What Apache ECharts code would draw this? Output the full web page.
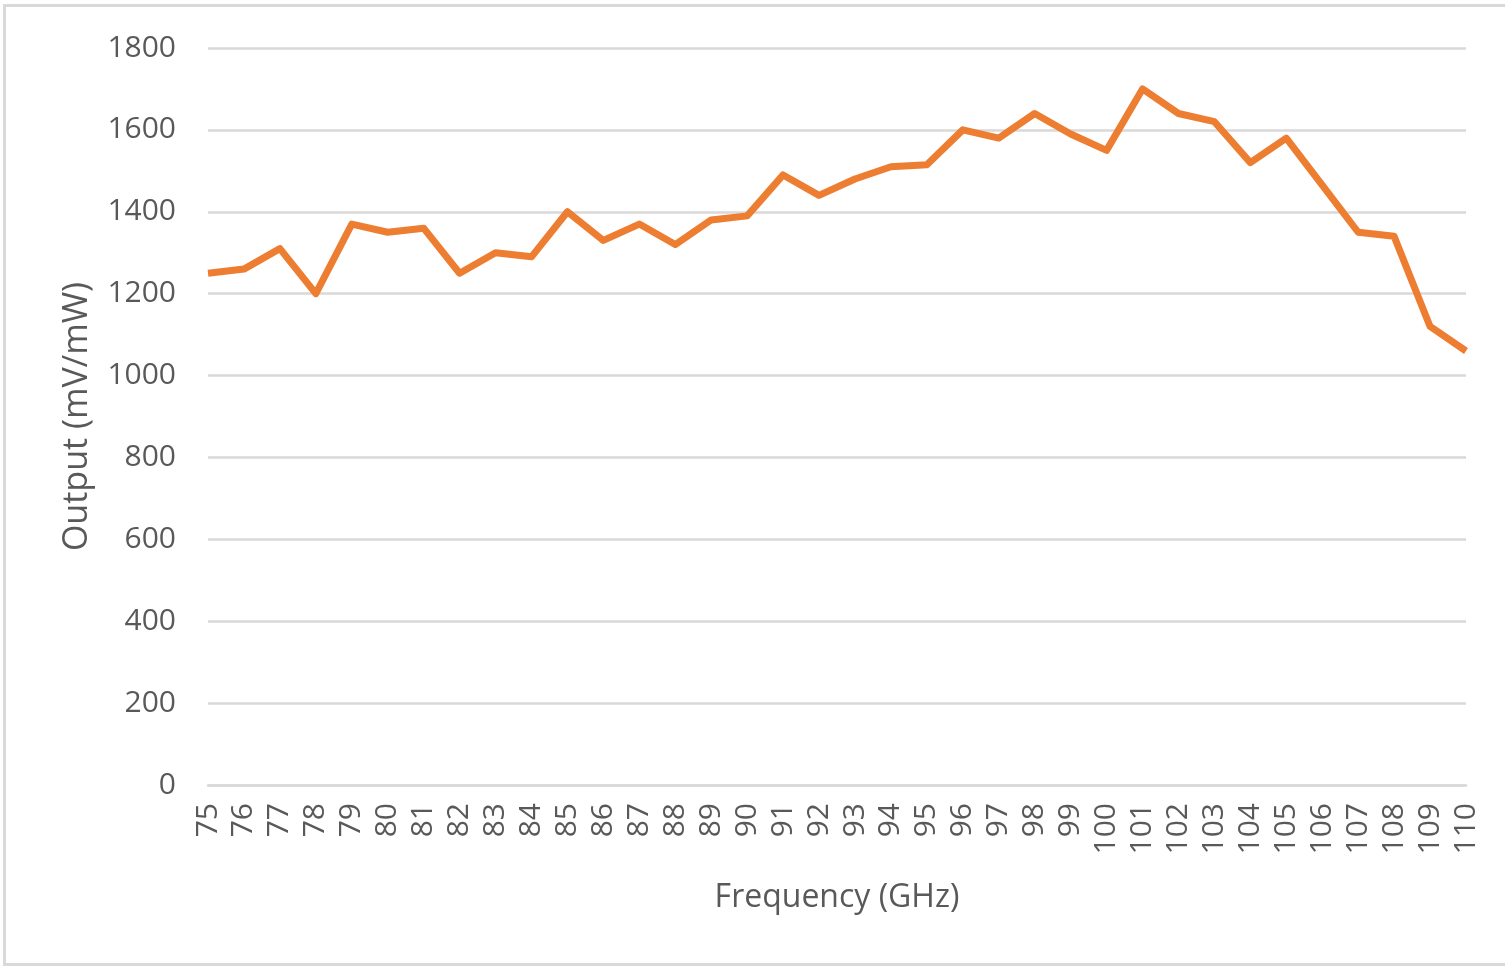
<!DOCTYPE html>
<html>
<head>
<meta charset="utf-8">
<script src="https://cdn.jsdelivr.net/npm/echarts@6/dist/echarts.min.js"></script>
<style>
html,body{margin:0;padding:0;background:#fff;}
#chart{width:1505px;height:966px;}
</style>
</head>
<body>
<div id="chart"></div>
<script>
const categories = ['75','76','77','78','79','80','81','82','83','84','85','86','87','88','89','90','91','92','93','94','95','96','97','98','99','100','101','102','103','104','105','106','107','108','109','110'];
const outputValues = [1250,1260,1310,1200,1370,1350,1360,1250,1300,1290,1400,1330,1370,1320,1380,1390,1490,1440,1480,1510,1515,1600,1580,1640,1590,1550,1700,1640,1620,1520,1580,1465,1350,1340,1120,1060];
const yMin = 0, yMax = 1800, yInterval = 200;

const FONT = 'Open Sans';
const chart = echarts.init(document.getElementById('chart'), null, {renderer: 'canvas'});
chart.setOption({
  animation: false,
  backgroundColor: '#fff',
  graphic: [{
    type: 'rect',
    shape: {x: 4.5, y: 5.5, width: 1520, height: 959},
    style: {fill: 'none', stroke: '#d9d9d9', lineWidth: 3},
    silent: true, z: -1
  }],
  grid: {left: 208, right: 39, top: 48, bottom: 181, containLabel: false},
  xAxis: {
    type: 'category',
    data: categories,
    boundaryGap: false,
    name: 'Frequency (GHz)',
    nameLocation: 'middle',
    nameGap: 97,
    nameTextStyle: {fontFamily: FONT, fontSize: 32, color: '#595959', verticalAlign: 'top'},
    axisLine: {lineStyle: {color: '#d9d9d9', width: 2.5}},
    axisTick: {show: false},
    axisLabel: {rotate: 90, interval: 0, margin: 18, fontFamily: FONT, fontSize: 30, color: '#595959'},
    splitLine: {show: false}
  },
  yAxis: {
    type: 'value',
    min: yMin, max: yMax, interval: yInterval,
    name: 'Output (mV/mW)',
    nameLocation: 'middle',
    nameGap: 114,
    nameRotate: 90,
    nameTextStyle: {fontFamily: FONT, fontSize: 34, color: '#595959'},
    axisLine: {show: false},
    axisTick: {show: false},
    axisLabel: {margin: 32, fontFamily: FONT, fontSize: 30, color: '#595959', formatter: function (v) { return String(v); }},
    splitLine: {lineStyle: {color: '#d9d9d9', width: 2.5}}
  },
  series: [{
    type: 'line',
    data: outputValues,
    showSymbol: false,
    lineStyle: {color: '#ED7D31', width: 7, join: 'round'},
    itemStyle: {color: '#ED7D31'}
  }]
});
</script>
</body>
</html>
